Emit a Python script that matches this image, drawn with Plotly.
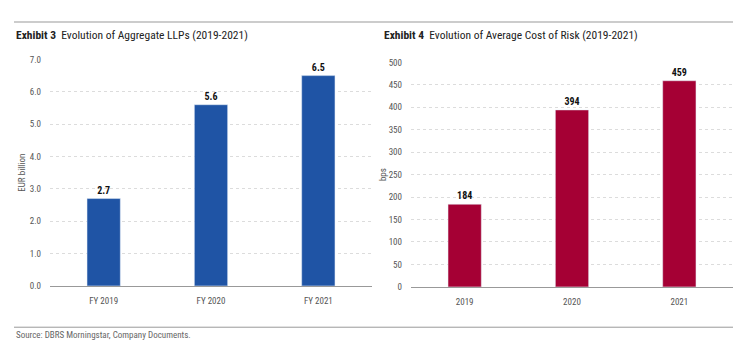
import plotly.graph_objects as go

W, H = 750, 357

llp_categories = ["FY 2019", "FY 2020", "FY 2021"]
llp_values = [2.7, 5.6, 6.5]
llp_ticks = [0, 1, 2, 3, 4, 5, 6, 7]

cor_categories = ["2019", "2020", "2021"]
cor_values = [184, 394, 459]
cor_ticks = [0, 50, 100, 150, 200, 250, 300, 350, 400, 450, 500]

BLUE = "#1f54a5"
RED = "#a50034"
FONT = "Roboto Condensed, Liberation Sans Narrow, DejaVu Sans Condensed, Roboto, sans-serif"

def px_x(p):
    return p / W

def px_y(p):
    return 1 - p / H

fig = go.Figure()
fig.add_trace(go.Bar(
    x=llp_categories, y=llp_values, marker_color=BLUE, width=0.31,
    text=[f"{v:.1f}" for v in llp_values], textposition="outside",
    textfont=dict(family=FONT, size=10, color="#111"), cliponaxis=False,
    texttemplate="<b>%{text}</b>", xaxis="x", yaxis="y", showlegend=False,
))
fig.add_trace(go.Bar(
    x=cor_categories, y=cor_values, marker_color=RED, width=0.31,
    text=[str(v) for v in cor_values], textposition="outside",
    textfont=dict(family=FONT, size=10, color="#111"), cliponaxis=False,
    texttemplate="<b>%{text}</b>", xaxis="x2", yaxis="y2", showlegend=False,
))

tickfont = dict(family=FONT, size=9, color="#555")
common_y = dict(showgrid=True, gridcolor="#dcdcdc", griddash="dot", gridwidth=1,
                zeroline=False, showline=False, ticks="", tickfont=tickfont,
                ticklabelstandoff=8)
common_x = dict(showline=True, linecolor="#999", linewidth=1, ticks="",
                tickfont=tickfont, ticklabelstandoff=6, showgrid=False)

fig.update_layout(
    width=W, height=H, margin=dict(l=0, r=0, t=0, b=0),
    paper_bgcolor="white", plot_bgcolor="white", bargap=0.69,
    font=dict(family=FONT),
    xaxis=dict(domain=[px_x(50), px_x(372)], anchor="y", **common_x),
    yaxis=dict(domain=[px_y(289), px_y(56)], anchor="x", range=[0, 7],
               tickvals=llp_ticks, tickformat=".1f",
               title=dict(text="EUR billion", font=dict(family=FONT, size=9, color="#555"), standoff=2),
               **common_y),
    xaxis2=dict(domain=[px_x(411), px_x(733)], anchor="y2", **common_x),
    yaxis2=dict(domain=[px_y(290), px_y(59)], anchor="x2", range=[0, 500],
                tickvals=cor_ticks,
                title=dict(text="bps", font=dict(family=FONT, size=9, color="#555"), standoff=0),
                **common_y),
    shapes=[
        dict(type="line", xref="paper", yref="paper", x0=px_x(14), x1=px_x(733),
             y0=px_y(17.5), y1=px_y(17.5), line=dict(color="#999", width=1)),
        dict(type="line", xref="paper", yref="paper", x0=px_x(14), x1=px_x(733),
             y0=px_y(331.5), y1=px_y(331.5), line=dict(color="#999", width=1)),
    ],
    annotations=[
        dict(xref="paper", yref="paper", x=px_x(14), y=px_y(31), xanchor="left", yanchor="middle",
             showarrow=False, text="<b>Exhibit 3</b>  Evolution of Aggregate LLPs (2019-2021)",
             font=dict(family=FONT, size=11.5, color="#222")),
        dict(xref="paper", yref="paper", x=px_x(382), y=px_y(31), xanchor="left", yanchor="middle",
             showarrow=False, text="<b>Exhibit 4</b>  Evolution of Average Cost of Risk (2019-2021)",
             font=dict(family=FONT, size=11.5, color="#222")),
        dict(xref="paper", yref="paper", x=px_x(14), y=px_y(340), xanchor="left", yanchor="middle",
             showarrow=False, text="Source: DBRS Morningstar, Company Documents.",
             font=dict(family=FONT, size=9, color="#666")),
    ],
)

fig.write_html("out.html", config={"displayModeBar": False},
               post_script="document.body.style.margin='0';")
